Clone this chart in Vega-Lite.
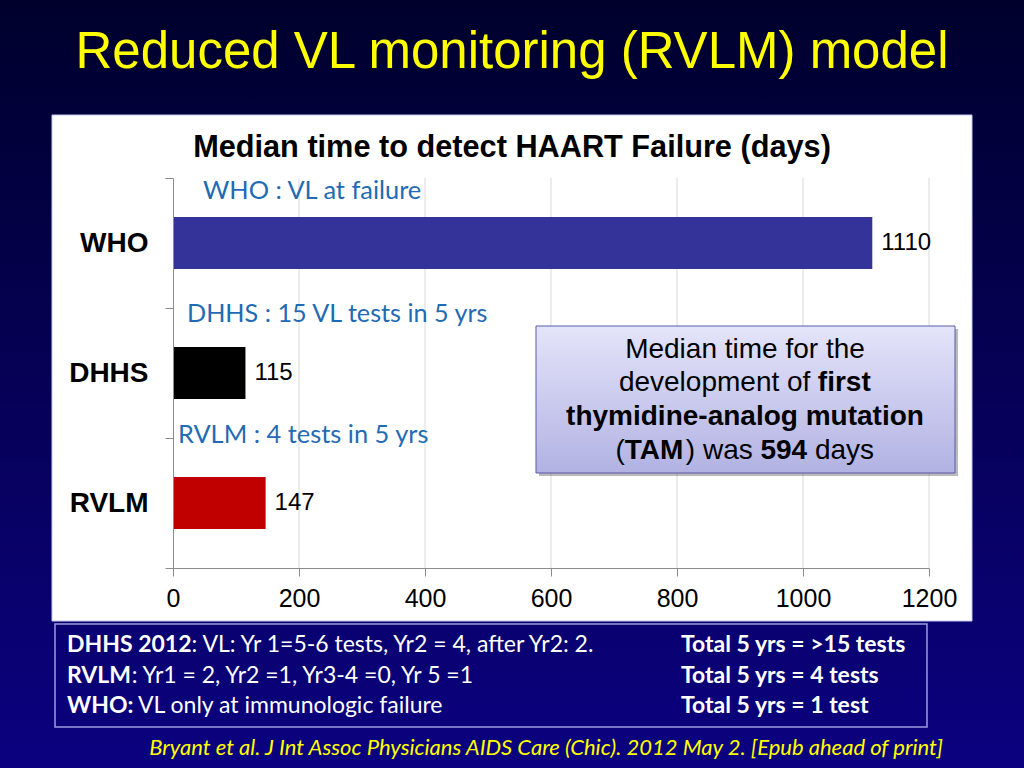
{
  "$schema": "https://vega.github.io/schema/vega-lite/v6.json",
  "width": 1024,
  "height": 768,
  "padding": 0,
  "autosize": {"type": "none"},
  "background": "#04004a",
  "title": {
    "text": "Reduced VL monitoring (RVLM) model",
    "subtitle": "Median time to detect HAART Failure (days)",
    "anchor": "middle",
    "frame": "group",
    "baseline": "top",
    "font": "Liberation Sans",
    "fontSize": 51,
    "fontWeight": "normal",
    "color": "#ffff00",
    "subtitleFont": "Liberation Sans",
    "subtitleFontSize": 30.7,
    "subtitleFontWeight": "bold",
    "subtitleColor": "#000000",
    "subtitlePadding": 54,
    "offset": -178
  },
  "config": {
    "view": {
      "stroke": null,
      "fill": {"gradient": "linear", "x1": 0, "y1": 0, "x2": 0, "y2": 1,
        "stops": [{"offset": 0, "color": "#00002c"}, {"offset": 1, "color": "#0b0180"}]}
    }
  },
  "resolve": {"scale": {"y": "independent"}},
  "layer": [
    {
      "layer": [
        {
          "data": {"values": [{"panel": "chart"}]},
          "mark": {"type": "rect", "fill": "#ffffff", "stroke": "#c8c8f0", "strokeWidth": 1},
          "encoding": {
            "x": {"datum": -192.06, "type": "quantitative"},
            "x2": {"datum": 1268.25},
            "y": {"datum": -0.4846, "type": "quantitative", "scale": {"domain": [0, 3], "range": [178, 568], "nice": false, "zero": false}, "axis": null},
            "y2": {"datum": 3.4077}
          }
        },
        {
          "data": {"values": [{"v": 200}, {"v": 400}, {"v": 600}, {"v": 800}, {"v": 1000}, {"v": 1200}]},
          "mark": {"type": "rule", "color": "#d9d9d9", "strokeWidth": 1},
          "encoding": {
            "x": {"field": "v", "type": "quantitative"},
            "y": {"datum": 0, "type": "quantitative", "axis": null},
            "y2": {"datum": 3}
          }
        }
      ]
    },
    {
      "data": {"values": [
        {"scheme": "WHO", "days": 1110},
        {"scheme": "DHHS", "days": 115},
        {"scheme": "RVLM", "days": 147}
      ]},
      "layer": [
        {
          "mark": {"type": "bar", "height": {"band": 0.4}},
          "encoding": {
            "y": {
              "field": "scheme", "type": "nominal", "sort": null,
              "scale": {"domain": ["WHO", "DHHS", "RVLM"], "range": [178, 568], "paddingInner": 0, "paddingOuter": 0},
              "axis": {
                "orient": "left", "offset": -173, "title": null, "grid": false,
                "tickBand": "extent", "tickSize": 8, "tickColor": "#8c8c8c", "domainColor": "#8c8c8c",
                "labelFont": "Liberation Sans", "labelFontSize": 28, "labelFontWeight": "bold",
                "labelColor": "#000000", "labelPadding": 17, "zindex": 1
              }
            },
            "x": {
              "field": "days", "type": "quantitative",
              "scale": {"domain": [0, 1200], "range": [173, 929], "nice": false, "zero": true},
              "axis": {
                "orient": "bottom", "offset": -200, "title": null, "grid": false,
                "values": [0, 200, 400, 600, 800, 1000, 1200], "format": "d",
                "tickSize": 8, "tickColor": "#8c8c8c", "domainColor": "#8c8c8c",
                "labelFont": "Liberation Sans", "labelFontSize": 25, "labelColor": "#000000",
                "labelPadding": 10, "labelFlush": false, "zindex": 1
              }
            },
            "color": {
              "field": "scheme", "type": "nominal",
              "scale": {"domain": ["WHO", "DHHS", "RVLM"], "range": ["#333399", "#000000", "#c00000"]},
              "legend": null
            }
          }
        },
        {
          "mark": {"type": "text", "align": "left", "baseline": "middle", "dx": 9, "font": "Liberation Sans", "fontSize": 24, "color": "#000000"},
          "encoding": {
            "y": {"field": "scheme", "type": "nominal", "sort": null},
            "x": {"field": "days", "type": "quantitative"},
            "text": {"field": "days", "type": "quantitative"}
          }
        }
      ]
    },
    {
      "layer": [
        {
          "data": {"values": [{"note": "WHO : VL at failure"}]},
          "mark": {"type": "text", "align": "left", "baseline": "middle", "font": "Lato", "fontSize": 25.4, "color": "#1f6bb4"},
          "encoding": {
            "x": {"datum": 47.6, "type": "quantitative"},
            "y": {"datum": 0.1, "type": "quantitative", "scale": {"domain": [0, 3], "range": [178, 568], "nice": false, "zero": false}, "axis": null},
            "text": {"field": "note"}
          }
        },
        {
          "data": {"values": [{"note": "DHHS : 15 VL tests in 5 yrs"}]},
          "mark": {"type": "text", "align": "left", "baseline": "middle", "font": "Lato", "fontSize": 25.2, "color": "#1f6bb4"},
          "encoding": {
            "x": {"datum": 22.2, "type": "quantitative"},
            "y": {"datum": 1.046, "type": "quantitative", "axis": null},
            "text": {"field": "note"}
          }
        },
        {
          "data": {"values": [{"note": "RVLM : 4 tests in 5 yrs"}]},
          "mark": {"type": "text", "align": "left", "baseline": "middle", "font": "Lato", "fontSize": 25.4, "color": "#1f6bb4"},
          "encoding": {
            "x": {"datum": 7.9, "type": "quantitative"},
            "y": {"datum": 1.977, "type": "quantitative", "axis": null},
            "text": {"field": "note"}
          }
        },
        {
          "data": {"values": [{"box": "callout"}]},
          "mark": {"type": "rect", "fill": "#666666", "opacity": 0.45},
          "encoding": {
            "x": {"datum": 580.95, "type": "quantitative"},
            "x2": {"datum": 1246.03},
            "y": {"datum": 1.1615, "type": "quantitative", "axis": null},
            "y2": {"datum": 2.2923}
          }
        },
        {
          "data": {"values": [{"box": "callout"}]},
          "mark": {"type": "rect", "stroke": "#5a5aa8", "strokeWidth": 1,
            "fill": {"gradient": "linear", "x1": 0, "y1": 0, "x2": 0, "y2": 1,
              "stops": [{"offset": 0, "color": "#e4e4fa"}, {"offset": 1, "color": "#b2b2e3"}]}},
          "encoding": {
            "x": {"datum": 576.19, "type": "quantitative"},
            "x2": {"datum": 1241.27},
            "y": {"datum": 1.1385, "type": "quantitative", "axis": null},
            "y2": {"datum": 2.2692}
          }
        },
        {
          "data": {"values": [{"t": "Median time for the"}]},
          "mark": {"type": "text", "align": "center", "baseline": "middle", "font": "Liberation Sans", "fontSize": 28, "color": "#000000"},
          "encoding": {
            "x": {"datum": 907.9, "type": "quantitative"},
            "y": {"datum": 1.3231, "type": "quantitative", "axis": null},
            "text": {"field": "t"}
          }
        },
        {
          "data": {"values": [{"t": "development of"}]},
          "mark": {"type": "text", "align": "right", "baseline": "middle", "font": "Liberation Sans", "fontSize": 28, "color": "#000000"},
          "encoding": {
            "x": {"datum": 1011.7, "type": "quantitative"},
            "y": {"datum": 1.5769, "type": "quantitative", "axis": null},
            "text": {"field": "t"}
          }
        },
        {
          "data": {"values": [{"t": "first"}]},
          "mark": {"type": "text", "align": "left", "baseline": "middle", "font": "Liberation Sans", "fontSize": 28, "fontWeight": "bold", "color": "#000000"},
          "encoding": {
            "x": {"datum": 1023.5, "type": "quantitative"},
            "y": {"datum": 1.5769, "type": "quantitative", "axis": null},
            "text": {"field": "t"}
          }
        },
        {
          "data": {"values": [{"t": "thymidine-analog mutation"}]},
          "mark": {"type": "text", "align": "center", "baseline": "middle", "font": "Liberation Sans", "fontSize": 28, "fontWeight": "bold", "color": "#000000"},
          "encoding": {
            "x": {"datum": 907.9, "type": "quantitative"},
            "y": {"datum": 1.8385, "type": "quantitative", "axis": null},
            "text": {"field": "t"}
          }
        },
        {
          "data": {"values": [{"t": "("}]},
          "mark": {"type": "text", "align": "left", "baseline": "middle", "font": "Liberation Sans", "fontSize": 28, "color": "#000000"},
          "encoding": {
            "x": {"datum": 702.2, "type": "quantitative"},
            "y": {"datum": 2.1, "type": "quantitative", "axis": null},
            "text": {"field": "t"}
          }
        },
        {
          "data": {"values": [{"t": "TAM"}]},
          "mark": {"type": "text", "align": "left", "baseline": "middle", "font": "Liberation Sans", "fontSize": 28, "fontWeight": "bold", "color": "#000000"},
          "encoding": {
            "x": {"datum": 717.0, "type": "quantitative"},
            "y": {"datum": 2.1, "type": "quantitative", "axis": null},
            "text": {"field": "t"}
          }
        },
        {
          "data": {"values": [{"t": ") was"}]},
          "mark": {"type": "text", "align": "left", "baseline": "middle", "font": "Liberation Sans", "fontSize": 28, "color": "#000000"},
          "encoding": {
            "x": {"datum": 814.0, "type": "quantitative"},
            "y": {"datum": 2.1, "type": "quantitative", "axis": null},
            "text": {"field": "t"}
          }
        },
        {
          "data": {"values": [{"t": "594"}]},
          "mark": {"type": "text", "align": "left", "baseline": "middle", "font": "Liberation Sans", "fontSize": 28, "fontWeight": "bold", "color": "#000000"},
          "encoding": {
            "x": {"datum": 932.5, "type": "quantitative"},
            "y": {"datum": 2.1, "type": "quantitative", "axis": null},
            "text": {"field": "t"}
          }
        },
        {
          "data": {"values": [{"t": "days"}]},
          "mark": {"type": "text", "align": "left", "baseline": "middle", "font": "Liberation Sans", "fontSize": 28, "color": "#000000"},
          "encoding": {
            "x": {"datum": 1019.0, "type": "quantitative"},
            "y": {"datum": 2.1, "type": "quantitative", "axis": null},
            "text": {"field": "t"}
          }
        },
        {
          "data": {"values": [{"box": "schedules"}]},
          "mark": {"type": "rect", "fill": null, "fillOpacity": 0, "stroke": "#9c9cdc", "strokeWidth": 1.5},
          "encoding": {
            "x": {"datum": -187.3, "type": "quantitative"},
            "x2": {"datum": 1196.8},
            "y": {"datum": 3.4308, "type": "quantitative", "axis": null},
            "y2": {"datum": 4.2231}
          }
        },
        {
          "data": {"values": [{"line": "1", "t": "DHHS 2012"}]},
          "mark": {"type": "text", "align": "left", "baseline": "middle", "font": "Lato", "fontSize": 23, "fontWeight": "bold", "color": "#ffffff"},
          "encoding": {
            "x": {"datum": -168.25, "type": "quantitative"},
            "y": {"datum": 3.5923, "type": "quantitative", "axis": null},
            "text": {"field": "t"}
          }
        },
        {
          "data": {"values": [{"line": "2", "t": "RVLM"}]},
          "mark": {"type": "text", "align": "left", "baseline": "middle", "font": "Lato", "fontSize": 23, "fontWeight": "bold", "color": "#ffffff"},
          "encoding": {
            "x": {"datum": -168.25, "type": "quantitative"},
            "y": {"datum": 3.8308, "type": "quantitative", "axis": null},
            "text": {"field": "t"}
          }
        },
        {
          "data": {"values": [{"line": "3", "t": "WHO:"}]},
          "mark": {"type": "text", "align": "left", "baseline": "middle", "font": "Lato", "fontSize": 23, "fontWeight": "bold", "color": "#ffffff"},
          "encoding": {
            "x": {"datum": -168.25, "type": "quantitative"},
            "y": {"datum": 4.0615, "type": "quantitative", "axis": null},
            "text": {"field": "t"}
          }
        },
        {
          "data": {"values": [{"t": ": VL: Yr 1=5-6 tests, Yr2 = 4, after Yr2: 2."}]},
          "mark": {"type": "text", "align": "left", "baseline": "middle", "font": "Lato", "fontSize": 23, "color": "#ffffff"},
          "encoding": {
            "x": {"datum": 29.5, "type": "quantitative"},
            "y": {"datum": 3.5923, "type": "quantitative", "axis": null},
            "text": {"field": "t"}
          }
        },
        {
          "data": {"values": [{"t": ": Yr1 = 2, Yr2 =1, Yr3-4 =0, Yr 5 =1"}]},
          "mark": {"type": "text", "align": "left", "baseline": "middle", "font": "Lato", "fontSize": 23, "color": "#ffffff"},
          "encoding": {
            "x": {"datum": -65.5, "type": "quantitative"},
            "y": {"datum": 3.8308, "type": "quantitative", "axis": null},
            "text": {"field": "t"}
          }
        },
        {
          "data": {"values": [{"t": "VL only at immunologic failure"}]},
          "mark": {"type": "text", "align": "left", "baseline": "middle", "font": "Lato", "fontSize": 23, "color": "#ffffff"},
          "encoding": {
            "x": {"datum": -55.6, "type": "quantitative"},
            "y": {"datum": 4.0615, "type": "quantitative", "axis": null},
            "text": {"field": "t"}
          }
        },
        {
          "data": {"values": [{"t": "Total 5 yrs = >15 tests"}]},
          "mark": {"type": "text", "align": "left", "baseline": "middle", "font": "Lato", "fontSize": 23, "fontWeight": "bold", "color": "#ffffff"},
          "encoding": {
            "x": {"datum": 806.35, "type": "quantitative"},
            "y": {"datum": 3.5923, "type": "quantitative", "axis": null},
            "text": {"field": "t"}
          }
        },
        {
          "data": {"values": [{"t": "Total 5 yrs = 4 tests"}]},
          "mark": {"type": "text", "align": "left", "baseline": "middle", "font": "Lato", "fontSize": 23, "fontWeight": "bold", "color": "#ffffff"},
          "encoding": {
            "x": {"datum": 806.35, "type": "quantitative"},
            "y": {"datum": 3.8308, "type": "quantitative", "axis": null},
            "text": {"field": "t"}
          }
        },
        {
          "data": {"values": [{"t": "Total 5 yrs = 1 test"}]},
          "mark": {"type": "text", "align": "left", "baseline": "middle", "font": "Lato", "fontSize": 23, "fontWeight": "bold", "color": "#ffffff"},
          "encoding": {
            "x": {"datum": 806.35, "type": "quantitative"},
            "y": {"datum": 4.0615, "type": "quantitative", "axis": null},
            "text": {"field": "t"}
          }
        },
        {
          "data": {"values": [{"t": "Bryant et al. J Int Assoc Physicians AIDS Care (Chic). 2012 May 2. [Epub ahead of print]"}]},
          "mark": {"type": "text", "align": "center", "baseline": "middle", "font": "Lato", "fontSize": 22, "fontStyle": "italic", "color": "#ffff00"},
          "encoding": {
            "x": {"datum": 592.1, "type": "quantitative"},
            "y": {"datum": 4.3846, "type": "quantitative", "axis": null},
            "text": {"field": "t"}
          }
        }
      ]
    }
  ]
}
